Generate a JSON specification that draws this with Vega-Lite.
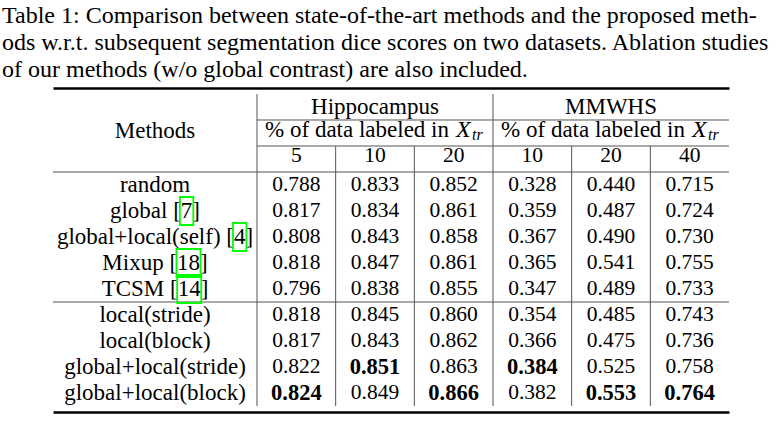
{
  "$schema": "https://vega.github.io/schema/vega-lite/v6.json",
  "width": 676,
  "height": 324,
  "autosize": "none",
  "padding": {"left": 53, "top": 88, "right": 50, "bottom": 18},
  "title": {
    "text": [
      "Table 1: Comparison between state-of-the-art methods and the proposed meth-",
      "ods w.r.t. subsequent segmentation dice scores on two datasets. Ablation studies",
      "of our methods (w/o global contrast) are also included."
    ],
    "anchor": "start",
    "frame": "group",
    "dx": -51,
    "offset": 6,
    "font": "Liberation Serif",
    "fontSize": 24,
    "fontWeight": "normal",
    "fontStyle": "normal",
    "color": "#000",
    "lineHeight": 27
  },
  "datasets": {
    "scores": [
      {"method": "random", "column": "Hippocampus 5", "score": 0.788},
      {"method": "random", "column": "Hippocampus 10", "score": 0.833},
      {"method": "random", "column": "Hippocampus 20", "score": 0.852},
      {"method": "random", "column": "MMWHS 10", "score": 0.328},
      {"method": "random", "column": "MMWHS 20", "score": 0.440},
      {"method": "random", "column": "MMWHS 40", "score": 0.715},
      {"method": "global [7]", "column": "Hippocampus 5", "score": 0.817},
      {"method": "global [7]", "column": "Hippocampus 10", "score": 0.834},
      {"method": "global [7]", "column": "Hippocampus 20", "score": 0.861},
      {"method": "global [7]", "column": "MMWHS 10", "score": 0.359},
      {"method": "global [7]", "column": "MMWHS 20", "score": 0.487},
      {"method": "global [7]", "column": "MMWHS 40", "score": 0.724},
      {"method": "global+local(self) [4]", "column": "Hippocampus 5", "score": 0.808},
      {"method": "global+local(self) [4]", "column": "Hippocampus 10", "score": 0.843},
      {"method": "global+local(self) [4]", "column": "Hippocampus 20", "score": 0.858},
      {"method": "global+local(self) [4]", "column": "MMWHS 10", "score": 0.367},
      {"method": "global+local(self) [4]", "column": "MMWHS 20", "score": 0.490},
      {"method": "global+local(self) [4]", "column": "MMWHS 40", "score": 0.730},
      {"method": "Mixup [18]", "column": "Hippocampus 5", "score": 0.818},
      {"method": "Mixup [18]", "column": "Hippocampus 10", "score": 0.847},
      {"method": "Mixup [18]", "column": "Hippocampus 20", "score": 0.861},
      {"method": "Mixup [18]", "column": "MMWHS 10", "score": 0.365},
      {"method": "Mixup [18]", "column": "MMWHS 20", "score": 0.541},
      {"method": "Mixup [18]", "column": "MMWHS 40", "score": 0.755},
      {"method": "TCSM [14]", "column": "Hippocampus 5", "score": 0.796},
      {"method": "TCSM [14]", "column": "Hippocampus 10", "score": 0.838},
      {"method": "TCSM [14]", "column": "Hippocampus 20", "score": 0.855},
      {"method": "TCSM [14]", "column": "MMWHS 10", "score": 0.347},
      {"method": "TCSM [14]", "column": "MMWHS 20", "score": 0.489},
      {"method": "TCSM [14]", "column": "MMWHS 40", "score": 0.733},
      {"method": "local(stride)", "column": "Hippocampus 5", "score": 0.818},
      {"method": "local(stride)", "column": "Hippocampus 10", "score": 0.845},
      {"method": "local(stride)", "column": "Hippocampus 20", "score": 0.860},
      {"method": "local(stride)", "column": "MMWHS 10", "score": 0.354},
      {"method": "local(stride)", "column": "MMWHS 20", "score": 0.485},
      {"method": "local(stride)", "column": "MMWHS 40", "score": 0.743},
      {"method": "local(block)", "column": "Hippocampus 5", "score": 0.817},
      {"method": "local(block)", "column": "Hippocampus 10", "score": 0.843},
      {"method": "local(block)", "column": "Hippocampus 20", "score": 0.862},
      {"method": "local(block)", "column": "MMWHS 10", "score": 0.366},
      {"method": "local(block)", "column": "MMWHS 20", "score": 0.475},
      {"method": "local(block)", "column": "MMWHS 40", "score": 0.736},
      {"method": "global+local(stride)", "column": "Hippocampus 5", "score": 0.822},
      {"method": "global+local(stride)", "column": "Hippocampus 10", "score": 0.851},
      {"method": "global+local(stride)", "column": "Hippocampus 20", "score": 0.863},
      {"method": "global+local(stride)", "column": "MMWHS 10", "score": 0.384},
      {"method": "global+local(stride)", "column": "MMWHS 20", "score": 0.525},
      {"method": "global+local(stride)", "column": "MMWHS 40", "score": 0.758},
      {"method": "global+local(block)", "column": "Hippocampus 5", "score": 0.824},
      {"method": "global+local(block)", "column": "Hippocampus 10", "score": 0.849},
      {"method": "global+local(block)", "column": "Hippocampus 20", "score": 0.866},
      {"method": "global+local(block)", "column": "MMWHS 10", "score": 0.382},
      {"method": "global+local(block)", "column": "MMWHS 20", "score": 0.553},
      {"method": "global+local(block)", "column": "MMWHS 40", "score": 0.764}
    ],
    "methods": [
      {"method": "random", "group": "state of the art"},
      {"method": "global [7]", "group": "state of the art"},
      {"method": "global+local(self) [4]", "group": "state of the art"},
      {"method": "Mixup [18]", "group": "state of the art"},
      {"method": "TCSM [14]", "group": "state of the art"},
      {"method": "local(stride)", "group": "proposed"},
      {"method": "local(block)", "group": "proposed"},
      {"method": "global+local(stride)", "group": "proposed"},
      {"method": "global+local(block)", "group": "proposed"}
    ],
    "groups": [
      {"group": "state of the art", "first": "random"},
      {"group": "proposed", "first": "local(stride)"}
    ],
    "columns": [
      {"column": "Hippocampus 5", "dataset": "Hippocampus", "labeled": "5"},
      {"column": "Hippocampus 10", "dataset": "Hippocampus", "labeled": "10"},
      {"column": "Hippocampus 20", "dataset": "Hippocampus", "labeled": "20"},
      {"column": "MMWHS 10", "dataset": "MMWHS", "labeled": "10"},
      {"column": "MMWHS 20", "dataset": "MMWHS", "labeled": "20"},
      {"column": "MMWHS 40", "dataset": "MMWHS", "labeled": "40"}
    ],
    "datasets": [
      {"dataset": "Hippocampus"},
      {"dataset": "MMWHS"}
    ],
    "corner": [{"header": "Methods"}]
  },
  "layer": [
    {
      "data": {"name": "scores"},
      "transform": [
        {"joinaggregate": [{"op": "max", "field": "score", "as": "column_best"}], "groupby": ["column"]},
        {"filter": "datum.score < datum.column_best"}
      ],
      "mark": {"type": "text", "font": "Liberation Serif", "fontStyle": "normal", "fontWeight": "normal", "fontSize": 21.5, "fill": "#000"},
      "encoding": {
        "x": {"field": "column", "type": "nominal", "scale": {"type": "band", "domain": ["Hippocampus 5", "Hippocampus 10", "Hippocampus 20", "MMWHS 10", "MMWHS 20", "MMWHS 40"], "paddingInner": 0, "paddingOuter": 0, "range": [204, 676]}, "axis": null},
        "y": {"field": "method", "type": "nominal", "scale": {"type": "band", "domain": ["header-dataset", "header-fraction", "header-percent", "random", "global [7]", "global+local(self) [4]", "Mixup [18]", "TCSM [14]", "local(stride)", "local(block)", "global+local(stride)", "global+local(block)"], "paddingInner": 0, "paddingOuter": 0.230769}, "axis": null},
        "text": {"field": "score", "type": "quantitative", "format": ".3f"}
      }
    },
    {
      "data": {"name": "scores"},
      "transform": [
        {"joinaggregate": [{"op": "max", "field": "score", "as": "column_best"}], "groupby": ["column"]},
        {"filter": "datum.score == datum.column_best"}
      ],
      "mark": {"type": "text", "font": "Liberation Serif", "fontStyle": "normal", "fontSize": 22.5, "fontWeight": "bold", "fill": "#000"},
      "encoding": {
        "x": {"field": "column", "type": "nominal", "scale": {"type": "band", "domain": ["Hippocampus 5", "Hippocampus 10", "Hippocampus 20", "MMWHS 10", "MMWHS 20", "MMWHS 40"], "paddingInner": 0, "paddingOuter": 0, "range": [204, 676]}, "axis": null},
        "y": {"field": "method", "type": "nominal", "scale": {"type": "band", "domain": ["header-dataset", "header-fraction", "header-percent", "random", "global [7]", "global+local(self) [4]", "Mixup [18]", "TCSM [14]", "local(stride)", "local(block)", "global+local(stride)", "global+local(block)"], "paddingInner": 0, "paddingOuter": 0.230769}, "axis": null},
        "text": {"field": "score", "type": "quantitative", "format": ".3f"}
      }
    },
    {
      "data": {"name": "columns"},
      "mark": {"type": "text", "font": "Liberation Serif", "fontStyle": "normal", "fontWeight": "normal", "fontSize": 21.5, "fill": "#000", "dy": -3.5},
      "encoding": {
        "x": {"field": "column", "type": "nominal", "scale": {"type": "band", "domain": ["Hippocampus 5", "Hippocampus 10", "Hippocampus 20", "MMWHS 10", "MMWHS 20", "MMWHS 40"], "paddingInner": 0, "paddingOuter": 0, "range": [204, 676]}, "axis": null},
        "y": {"datum": "header-percent", "type": "nominal", "scale": {"type": "band", "domain": ["header-dataset", "header-fraction", "header-percent", "random", "global [7]", "global+local(self) [4]", "Mixup [18]", "TCSM [14]", "local(stride)", "local(block)", "global+local(stride)", "global+local(block)"], "paddingInner": 0, "paddingOuter": 0.230769}, "axis": null},
        "text": {"field": "labeled", "type": "nominal"}
      }
    },
    {
      "data": {"name": "methods"},
      "mark": {"type": "text", "font": "Liberation Serif", "fontStyle": "normal", "fontWeight": "normal", "fontSize": 23, "fill": "#000"},
      "encoding": {
        "x": {"datum": "Methods", "type": "nominal", "scale": {"type": "band", "domain": ["Methods"], "paddingInner": 0, "paddingOuter": 0, "range": [0, 204]}, "axis": null},
        "y": {"field": "method", "type": "nominal", "scale": {"type": "band", "domain": ["header-dataset", "header-fraction", "header-percent", "random", "global [7]", "global+local(self) [4]", "Mixup [18]", "TCSM [14]", "local(stride)", "local(block)", "global+local(stride)", "global+local(block)"], "paddingInner": 0, "paddingOuter": 0.230769}, "axis": null},
        "text": {"field": "method", "type": "nominal"}
      }
    },
    {
      "data": {"name": "corner"},
      "mark": {"type": "text", "font": "Liberation Serif", "fontStyle": "normal", "fontWeight": "normal", "fontSize": 23, "fill": "#000", "dy": -2},
      "encoding": {
        "x": {"datum": "Methods", "type": "nominal", "scale": {"type": "band", "domain": ["Methods"], "paddingInner": 0, "paddingOuter": 0, "range": [0, 204]}, "axis": null},
        "y": {"datum": "header-fraction", "type": "nominal", "scale": {"type": "band", "domain": ["header-dataset", "header-fraction", "header-percent", "random", "global [7]", "global+local(self) [4]", "Mixup [18]", "TCSM [14]", "local(stride)", "local(block)", "global+local(stride)", "global+local(block)"], "paddingInner": 0, "paddingOuter": 0.230769}, "axis": null},
        "text": {"field": "header", "type": "nominal"}
      }
    },
    {
      "data": {"name": "datasets"},
      "mark": {"type": "text", "font": "Liberation Serif", "fontStyle": "normal", "fontWeight": "normal", "fontSize": 23, "fill": "#000"},
      "encoding": {
        "x": {"field": "dataset", "type": "nominal", "scale": {"type": "band", "domain": ["Hippocampus", "MMWHS"], "paddingInner": 0, "paddingOuter": 0.432203, "align": 1},
          "axis": {"orient": "top", "domain": true, "domainColor": "#000", "domainWidth": 2.4, "ticks": false, "labels": false, "grid": false, "title": null}},
        "y": {"datum": "header-dataset", "type": "nominal", "scale": {"type": "band", "domain": ["header-dataset", "header-fraction", "header-percent", "random", "global [7]", "global+local(self) [4]", "Mixup [18]", "TCSM [14]", "local(stride)", "local(block)", "global+local(stride)", "global+local(block)"], "paddingInner": 0, "paddingOuter": 0.230769}, "axis": null},
        "text": {"field": "dataset", "type": "nominal"}
      }
    },
    {
      "data": {"name": "datasets"},
      "mark": {"type": "text", "font": "Liberation Serif", "fontStyle": "normal", "fontWeight": "normal", "fontSize": 23, "fill": "#000", "align": "right", "dx": 74, "dy": -3},
      "encoding": {
        "x": {"field": "dataset", "type": "nominal", "scale": {"type": "band", "domain": ["Hippocampus", "MMWHS"], "paddingInner": 0, "paddingOuter": 0.432203, "align": 1}, "axis": null},
        "y": {"datum": "header-fraction", "type": "nominal", "scale": {"type": "band", "domain": ["header-dataset", "header-fraction", "header-percent", "random", "global [7]", "global+local(self) [4]", "Mixup [18]", "TCSM [14]", "local(stride)", "local(block)", "global+local(stride)", "global+local(block)"], "paddingInner": 0, "paddingOuter": 0.230769}, "axis": null},
        "text": {"value": "% of data labeled in"}
      }
    },
    {
      "data": {"name": "datasets"},
      "mark": {"type": "text", "font": "Liberation Serif", "fontSize": 24, "fontStyle": "italic", "fontWeight": "normal", "fill": "#000", "align": "left", "dx": 81, "dy": -3},
      "encoding": {
        "x": {"field": "dataset", "type": "nominal", "scale": {"type": "band", "domain": ["Hippocampus", "MMWHS"], "paddingInner": 0, "paddingOuter": 0.432203, "align": 1}, "axis": null},
        "y": {"datum": "header-fraction", "type": "nominal", "scale": {"type": "band", "domain": ["header-dataset", "header-fraction", "header-percent", "random", "global [7]", "global+local(self) [4]", "Mixup [18]", "TCSM [14]", "local(stride)", "local(block)", "global+local(stride)", "global+local(block)"], "paddingInner": 0, "paddingOuter": 0.230769}, "axis": null},
        "text": {"value": "X"}
      }
    },
    {
      "data": {"name": "datasets"},
      "mark": {"type": "text", "font": "Liberation Serif", "fontSize": 16, "fontStyle": "italic", "fontWeight": "normal", "fill": "#000", "align": "left", "dx": 97, "dy": 2},
      "encoding": {
        "x": {"field": "dataset", "type": "nominal", "scale": {"type": "band", "domain": ["Hippocampus", "MMWHS"], "paddingInner": 0, "paddingOuter": 0.432203, "align": 1}, "axis": null},
        "y": {"datum": "header-fraction", "type": "nominal", "scale": {"type": "band", "domain": ["header-dataset", "header-fraction", "header-percent", "random", "global [7]", "global+local(self) [4]", "Mixup [18]", "TCSM [14]", "local(stride)", "local(block)", "global+local(stride)", "global+local(block)"], "paddingInner": 0, "paddingOuter": 0.230769}, "axis": null},
        "text": {"value": "tr"}
      }
    },
    {
      "data": {"name": "datasets"},
      "mark": {"type": "rule", "color": "#555", "strokeWidth": 1},
      "encoding": {
        "x": {"field": "dataset", "type": "nominal", "bandPosition": 0, "scale": {"type": "band", "domain": ["Hippocampus", "MMWHS"], "paddingInner": 0, "paddingOuter": 0.432203, "align": 1},
          "axis": {"orient": "bottom", "domain": true, "domainColor": "#000", "domainWidth": 2.4, "ticks": false, "labels": false, "grid": false, "title": null}},
        "y": {"datum": "header-dataset", "type": "nominal", "bandPosition": 0, "scale": {"type": "band", "domain": ["header-dataset", "header-fraction", "header-percent", "random", "global [7]", "global+local(self) [4]", "Mixup [18]", "TCSM [14]", "local(stride)", "local(block)", "global+local(stride)", "global+local(block)"], "paddingInner": 0, "paddingOuter": 0.230769}, "axis": null},
        "y2": {"datum": "header-percent", "bandPosition": 0}
      }
    },
    {
      "data": {"name": "columns"},
      "mark": {"type": "rule", "color": "#555", "strokeWidth": 1},
      "encoding": {
        "x": {"field": "column", "type": "nominal", "bandPosition": 0, "scale": {"type": "band", "domain": ["Hippocampus 5", "Hippocampus 10", "Hippocampus 20", "MMWHS 10", "MMWHS 20", "MMWHS 40"], "paddingInner": 0, "paddingOuter": 0, "range": [204, 676]}, "axis": null},
        "y": {"datum": "header-percent", "type": "nominal", "bandPosition": 0, "scale": {"type": "band", "domain": ["header-dataset", "header-fraction", "header-percent", "random", "global [7]", "global+local(self) [4]", "Mixup [18]", "TCSM [14]", "local(stride)", "local(block)", "global+local(stride)", "global+local(block)"], "paddingInner": 0, "paddingOuter": 0.230769}, "axis": null},
        "y2": {"datum": "global+local(block)", "bandPosition": 1}
      }
    },
    {
      "data": {"name": "datasets"},
      "mark": {"type": "rule", "color": "#555", "strokeWidth": 1},
      "encoding": {
        "x": {"field": "dataset", "type": "nominal", "bandPosition": 0, "scale": {"type": "band", "domain": ["Hippocampus", "MMWHS"], "paddingInner": 0, "paddingOuter": 0.432203, "align": 1}, "axis": null},
        "x2": {"field": "dataset", "bandPosition": 1},
        "y": {"datum": "header-fraction", "type": "nominal", "bandPosition": 0, "scale": {"type": "band", "domain": ["header-dataset", "header-fraction", "header-percent", "random", "global [7]", "global+local(self) [4]", "Mixup [18]", "TCSM [14]", "local(stride)", "local(block)", "global+local(stride)", "global+local(block)"], "paddingInner": 0, "paddingOuter": 0.230769}, "axis": null}
      }
    },
    {
      "data": {"name": "datasets"},
      "mark": {"type": "rule", "color": "#555", "strokeWidth": 1},
      "encoding": {
        "x": {"field": "dataset", "type": "nominal", "bandPosition": 0, "scale": {"type": "band", "domain": ["Hippocampus", "MMWHS"], "paddingInner": 0, "paddingOuter": 0.432203, "align": 1}, "axis": null},
        "x2": {"field": "dataset", "bandPosition": 1},
        "y": {"datum": "header-percent", "type": "nominal", "bandPosition": 0, "scale": {"type": "band", "domain": ["header-dataset", "header-fraction", "header-percent", "random", "global [7]", "global+local(self) [4]", "Mixup [18]", "TCSM [14]", "local(stride)", "local(block)", "global+local(stride)", "global+local(block)"], "paddingInner": 0, "paddingOuter": 0.230769}, "axis": null}
      }
    },
    {
      "data": {"name": "groups"},
      "mark": {"type": "rule", "color": "#555", "strokeWidth": 1},
      "encoding": {
        "y": {"field": "first", "type": "nominal", "bandPosition": 0, "scale": {"type": "band", "domain": ["header-dataset", "header-fraction", "header-percent", "random", "global [7]", "global+local(self) [4]", "Mixup [18]", "TCSM [14]", "local(stride)", "local(block)", "global+local(stride)", "global+local(block)"], "paddingInner": 0, "paddingOuter": 0.230769}, "axis": null}
      }
    },
    {
      "data": {"name": "methods"},
      "transform": [{"filter": "datum.method == 'global [7]'"}],
      "mark": {"type": "point", "filled": false, "stroke": "#00ff00", "strokeWidth": 1.8, "opacity": 1, "shape": "M-0.48,-1H0.48V1H-0.48Z", "size": 784, "xOffset": 31.6},
      "encoding": {
        "x": {"datum": "Methods", "type": "nominal", "scale": {"type": "band", "domain": ["Methods"], "paddingInner": 0, "paddingOuter": 0, "range": [0, 204]}, "axis": null},
        "y": {"field": "method", "type": "nominal", "scale": {"type": "band", "domain": ["header-dataset", "header-fraction", "header-percent", "random", "global [7]", "global+local(self) [4]", "Mixup [18]", "TCSM [14]", "local(stride)", "local(block)", "global+local(stride)", "global+local(block)"], "paddingInner": 0, "paddingOuter": 0.230769}, "axis": null}
      }
    },
    {
      "data": {"name": "methods"},
      "transform": [{"filter": "datum.method == 'global+local(self) [4]'"}],
      "mark": {"type": "point", "filled": false, "stroke": "#00ff00", "strokeWidth": 1.8, "opacity": 1, "shape": "M-0.48,-1H0.48V1H-0.48Z", "size": 784, "xOffset": 84.7},
      "encoding": {
        "x": {"datum": "Methods", "type": "nominal", "scale": {"type": "band", "domain": ["Methods"], "paddingInner": 0, "paddingOuter": 0, "range": [0, 204]}, "axis": null},
        "y": {"field": "method", "type": "nominal", "scale": {"type": "band", "domain": ["header-dataset", "header-fraction", "header-percent", "random", "global [7]", "global+local(self) [4]", "Mixup [18]", "TCSM [14]", "local(stride)", "local(block)", "global+local(stride)", "global+local(block)"], "paddingInner": 0, "paddingOuter": 0.230769}, "axis": null}
      }
    },
    {
      "data": {"name": "methods"},
      "transform": [{"filter": "datum.method == 'Mixup [18]'"}],
      "mark": {"type": "point", "filled": false, "stroke": "#00ff00", "strokeWidth": 1.8, "opacity": 1, "shape": "M-0.86,-1H0.86V1H-0.86Z", "size": 784, "xOffset": 33.5},
      "encoding": {
        "x": {"datum": "Methods", "type": "nominal", "scale": {"type": "band", "domain": ["Methods"], "paddingInner": 0, "paddingOuter": 0, "range": [0, 204]}, "axis": null},
        "y": {"field": "method", "type": "nominal", "scale": {"type": "band", "domain": ["header-dataset", "header-fraction", "header-percent", "random", "global [7]", "global+local(self) [4]", "Mixup [18]", "TCSM [14]", "local(stride)", "local(block)", "global+local(stride)", "global+local(block)"], "paddingInner": 0, "paddingOuter": 0.230769}, "axis": null}
      }
    },
    {
      "data": {"name": "methods"},
      "transform": [{"filter": "datum.method == 'TCSM [14]'"}],
      "mark": {"type": "point", "filled": false, "stroke": "#00ff00", "strokeWidth": 1.8, "opacity": 1, "shape": "M-0.86,-1H0.86V1H-0.86Z", "size": 784, "xOffset": 34.2},
      "encoding": {
        "x": {"datum": "Methods", "type": "nominal", "scale": {"type": "band", "domain": ["Methods"], "paddingInner": 0, "paddingOuter": 0, "range": [0, 204]}, "axis": null},
        "y": {"field": "method", "type": "nominal", "scale": {"type": "band", "domain": ["header-dataset", "header-fraction", "header-percent", "random", "global [7]", "global+local(self) [4]", "Mixup [18]", "TCSM [14]", "local(stride)", "local(block)", "global+local(stride)", "global+local(block)"], "paddingInner": 0, "paddingOuter": 0.230769}, "axis": null}
      }
    }
  ],
  "resolve": {"scale": {"x": "independent"}, "axis": {"x": "independent"}},
  "config": {"view": {"stroke": null}, "background": "#ffffff"}
}
